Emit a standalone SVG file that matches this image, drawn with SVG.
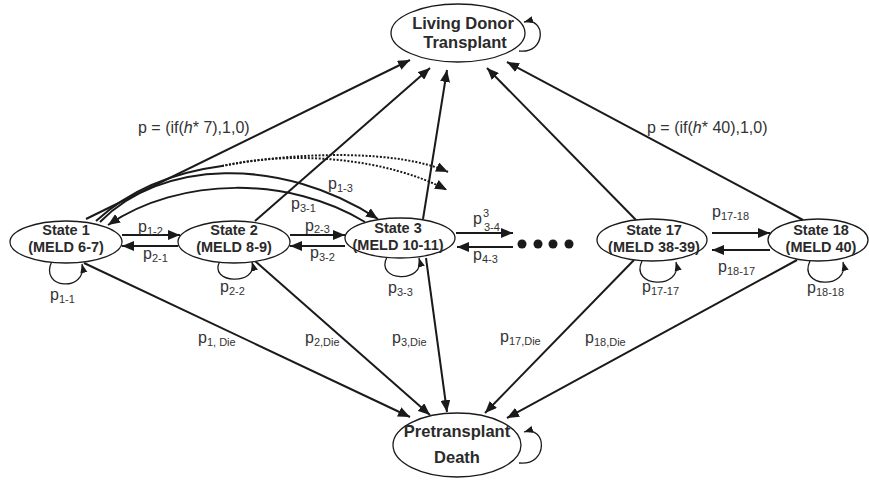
<svg xmlns="http://www.w3.org/2000/svg" width="869" height="480" viewBox="0 0 869 480">
  <defs>
    <marker id="arrow" viewBox="0 0 12 10" refX="12" refY="5" markerWidth="12" markerHeight="10" markerUnits="userSpaceOnUse" orient="auto">
      <path d="M0,0 L12,5 L0,10 Z" fill="#1a1a1a"/>
    </marker>
    <marker id="arrowSmall" viewBox="0 0 10 8" refX="10" refY="4" markerWidth="9" markerHeight="8" markerUnits="userSpaceOnUse" orient="auto">
      <path d="M0,0 L10,4 L0,8 Z" fill="#1a1a1a"/>
    </marker>
    <style>
      .node ellipse { fill: #fff; stroke: #1a1a1a; stroke-width: 1.3; }
      .title { font-family: "Liberation Sans", Arial, sans-serif; font-weight: bold; font-size: 14.5px; fill: #2a2a2a; text-anchor: middle; }
      .big { font-size: 16.5px; }
      .edge { fill: none; stroke: #1a1a1a; stroke-width: 2; }
      .edge.arr { marker-end: url(#arrow); }
      .dotted { fill: none; stroke: #1a1a1a; stroke-width: 2; stroke-dasharray: 2 1.6; marker-end: url(#arrow); }
      .loop { fill: none; stroke: #1a1a1a; stroke-width: 1.3; marker-end: url(#arrowSmall); }
      .lbl { font-family: "Liberation Sans", Arial, sans-serif; font-size: 16px; fill: #333; }
      .sub { font-size: 11px; }
    </style>
  </defs>

  <!-- transitions -->
  <g id="connectors">
    <!-- to Living Donor Transplant -->
    <path class="edge arr" d="M86,219 L410,60"/>
    <path class="edge arr" d="M255,221 L430,68"/>
    <path class="edge arr" d="M423,219 L447,70"/>
    <path class="edge arr" d="M636,220 L487,68"/>
    <path class="edge arr" d="M803,220 L507,62"/>

    <!-- to Pretransplant Death -->
    <path class="edge arr" d="M84,263 L410,417"/>
    <path class="edge arr" d="M255,261 L430,415"/>
    <path class="edge arr" d="M426,258 L447,412"/>
    <path class="edge arr" d="M634,260 L485,413"/>
    <path class="edge arr" d="M797,260 L507,418"/>

    <!-- long-range moves from State 1 -->
    <path class="edge" d="M96,221 Q145,176 222,166"/>
    <path class="dotted" d="M222,166 C300,151 400,150 448,172"/>
    <path class="dotted" d="M222,166 C300,149 390,160 447,190"/>
    <path class="edge arr" d="M100,222 C160,160 280,155 378,219"/>
    <path class="edge arr" d="M365,222 C290,176 180,176 108,225"/>

    <!-- neighbour moves -->
    <path class="edge arr" d="M122,235 L180,235"/>
    <path class="edge arr" d="M178,246 L122,246"/>
    <path class="edge arr" d="M290,235 L345,235"/>
    <path class="edge arr" d="M345,246 L290,246"/>
    <path class="edge arr" d="M456,233 L513,233"/>
    <path class="edge arr" d="M513,247 L457,247"/>
    <path class="edge arr" d="M712,233 L770,233"/>
    <path class="edge arr" d="M770,250 L712,250"/>

    <!-- self loops -->
    <path class="loop" d="M52,261 C38,290 88,292 82,264"/>
    <path class="loop" d="M220,261 C207,284 259,286 252,262"/>
    <path class="loop" d="M387,257 C374,282 426,284 419,258"/>
    <path class="loop" d="M642,261 C629,288 683,290 676,262"/>
    <path class="loop" d="M810,261 C797,288 850,290 843,262"/>
    <path class="loop" d="M519,51 C547,54 546,16 524,22"/>
    <path class="loop" d="M519,463 C549,466 547,425 524,432"/>

    <!-- states 4..16 -->
    <circle cx="522" cy="244" r="4.5" fill="#1a1a1a"/>
    <circle cx="538" cy="244" r="4.5" fill="#1a1a1a"/>
    <circle cx="553" cy="244" r="4.5" fill="#1a1a1a"/>
    <circle cx="569" cy="244" r="4.5" fill="#1a1a1a"/>
  </g>

  <!-- states -->
  <g id="ldt" class="node">
    <ellipse cx="458" cy="33" rx="67" ry="29"/>
    <text class="title big" x="463" y="29">Living Donor</text>
    <text class="title big" x="465" y="48">Transplant</text>
  </g>
  <g id="death" class="node">
    <ellipse cx="457" cy="445" rx="64" ry="32"/>
    <text class="title big" x="457" y="437">Pretransplant</text>
    <text class="title big" x="457" y="463">Death</text>
  </g>
  <g id="state1" class="node">
    <ellipse cx="66" cy="242" rx="56" ry="21"/>
    <text class="title" x="66" y="235">State 1</text>
    <text class="title" x="66" y="252">(MELD 6-7)</text>
  </g>
  <g id="state2" class="node">
    <ellipse cx="234" cy="242" rx="56" ry="21"/>
    <text class="title" x="234" y="235">State 2</text>
    <text class="title" x="234" y="252">(MELD 8-9)</text>
  </g>
  <g id="state3" class="node">
    <ellipse cx="400" cy="238" rx="55" ry="20"/>
    <text class="title" x="398" y="233">State 3</text>
    <text class="title" x="398" y="250">(MELD 10-11)</text>
  </g>
  <g id="state17" class="node">
    <ellipse cx="652" cy="240" rx="55" ry="21"/>
    <text class="title" x="654" y="235">State 17</text>
    <text class="title" x="654" y="252">(MELD 38-39)</text>
  </g>
  <g id="state18" class="node">
    <ellipse cx="818" cy="240" rx="50" ry="21"/>
    <text class="title" x="821" y="235">State 18</text>
    <text class="title" x="821" y="252">(MELD 40)</text>
  </g>

  <!-- transition probabilities -->
  <g id="labels">
    <text class="lbl" x="138" y="133">p = (if(<tspan font-style="italic">h</tspan>* 7),1,0)</text>
    <text class="lbl" x="647" y="133">p = (if(<tspan font-style="italic">h</tspan>* 40),1,0)</text>

    <text class="lbl" x="138" y="232">p<tspan class="sub" dy="3">1-2</tspan></text>
    <text class="lbl" x="143" y="259">p<tspan class="sub" dy="3">2-1</tspan></text>
    <text class="lbl" x="50" y="300">p<tspan class="sub" dy="3">1-1</tspan></text>
    <text class="lbl" x="220" y="292">p<tspan class="sub" dy="3">2-2</tspan></text>
    <text class="lbl" x="305" y="231">p<tspan class="sub" dy="2">2-3</tspan></text>
    <text class="lbl" x="310" y="258">p<tspan class="sub" dy="3">3-2</tspan></text>
    <text class="lbl" x="328" y="189">p<tspan class="sub" dy="3">1-3</tspan></text>
    <text class="lbl" x="291" y="209">p<tspan class="sub" dy="3">3-1</tspan></text>
    <text class="lbl" x="388" y="293">p<tspan class="sub" dy="3">3-3</tspan></text>
    <text class="lbl" x="473" y="224">p<tspan x="483" y="217" font-size="11px">3</tspan><tspan class="sub" x="484" y="231">3-4</tspan></text>
    <text class="lbl" x="473" y="260">p<tspan class="sub" dy="3">4-3</tspan></text>
    <text class="lbl" x="712" y="217">p<tspan class="sub" dy="3">17-18</tspan></text>
    <text class="lbl" x="718" y="272">p<tspan class="sub" dy="3">18-17</tspan></text>
    <text class="lbl" x="642" y="292">p<tspan class="sub" dy="3">17-17</tspan></text>
    <text class="lbl" x="807" y="293">p<tspan class="sub" dy="3">18-18</tspan></text>

    <text class="lbl" x="198" y="343">p<tspan class="sub" dy="3">1, Die</tspan></text>
    <text class="lbl" x="305" y="343">p<tspan class="sub" dy="3">2,Die</tspan></text>
    <text class="lbl" x="392" y="343">p<tspan class="sub" dy="3">3,Die</tspan></text>
    <text class="lbl" x="500" y="342">p<tspan class="sub" dy="3">17,Die</tspan></text>
    <text class="lbl" x="585" y="343">p<tspan class="sub" dy="3">18,Die</tspan></text>
  </g>
</svg>
